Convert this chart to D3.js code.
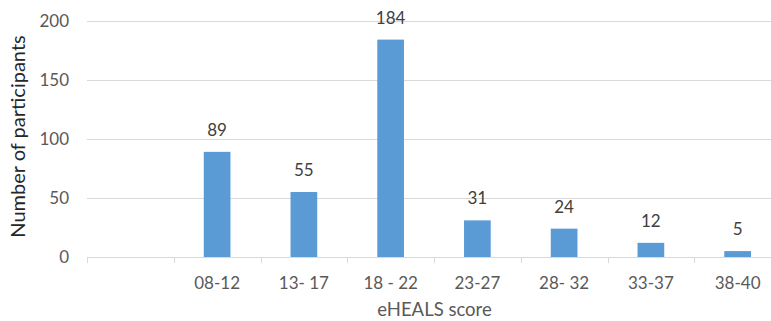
<!DOCTYPE html>
<html>
<head>
<meta charset="utf-8">
<script src="https://cdn.jsdelivr.net/npm/d3@7"></script>
<style>
  html, body { margin: 0; padding: 0; background: #fff; }
  svg { display: block; }
  text { font-family: Lato, "Open Sans", sans-serif; }
</style>
</head>
<body>
<svg id="chart" width="771" height="321"></svg>
<script>
// eHEALS score groups (first slot is an empty category)
const categories = ["", "08-12", "13- 17", "18 - 22", "23-27", "28- 32", "33-37", "38-40"];
const participants = [null, 89, 55, 184, 31, 24, 12, 5];
const yTicks = [0, 50, 100, 150, 200];

const svg = d3.select("#chart");
const plotLeft = 87, plotRight = 781, plotTop = 20.7, plotBottom = 257;

const x = d3.scaleBand().domain(categories).range([plotLeft, plotRight]).paddingInner(0).paddingOuter(0);
const y = d3.scaleLinear().domain([0, 200]).range([plotBottom, plotTop]);

// horizontal gridlines
svg.append("g").selectAll("line").data(yTicks.filter(d => d > 0)).join("line")
  .attr("x1", plotLeft).attr("x2", 771)
  .attr("y1", d => Math.round(y(d)) + 0.5).attr("y2", d => Math.round(y(d)) + 0.5)
  .attr("stroke", "#d9d9d9").attr("stroke-width", 1);

// y axis labels
const yAxis = d3.axisLeft(y).tickValues(yTicks).tickSize(0).tickPadding(18);
const gy = svg.append("g").attr("transform", `translate(${plotLeft},0)`).call(yAxis);
gy.select(".domain").remove();
gy.selectAll("text").attr("fill", "#595959").style("font-size", "17px")
  .style("font-family", "Lato, 'Open Sans', sans-serif");

// x axis with ticks between categories
const xAxis = d3.axisBottom(x).tickSize(0).tickPadding(19);
const gx = svg.append("g").attr("transform", `translate(0,${Math.round(plotBottom) + 0.5})`).call(xAxis);
gx.select(".domain").remove();
gx.selectAll("text").attr("fill", "#595959").style("font-size", "17px")
  .style("font-family", "Lato, 'Open Sans', sans-serif");
svg.append("line")
  .attr("x1", plotLeft).attr("x2", 771)
  .attr("y1", Math.round(plotBottom) + 0.5).attr("y2", Math.round(plotBottom) + 0.5)
  .attr("stroke", "#d9d9d9");
svg.append("g").selectAll("line").data(categories).join("line")
  .attr("x1", d => Math.round(x(d)) + 0.5).attr("x2", d => Math.round(x(d)) + 0.5)
  .attr("y1", Math.round(plotBottom) + 0.5).attr("y2", Math.round(plotBottom) + 6)
  .attr("stroke", "#d9d9d9");

// bars
const barW = 26.7;
const barData = categories.map((c, i) => ({ c, v: participants[i] })).filter(d => d.v != null);
svg.append("g").selectAll("rect").data(barData).join("rect")
  .attr("x", d => x(d.c) + x.bandwidth() / 2 - barW / 2)
  .attr("width", barW)
  .attr("y", d => y(d.v))
  .attr("height", d => y(0) - y(d.v))
  .attr("fill", "#5b9bd5");

// value labels
svg.append("g").selectAll("text").data(barData).join("text")
  .attr("x", d => x(d.c) + x.bandwidth() / 2)
  .attr("y", d => y(d.v) - 16)
  .attr("text-anchor", "middle")
  .attr("fill", "#404040")
  .style("font-size", "17px")
  .text(d => d.v);

// axis titles
svg.append("text")
  .attr("x", 434.5).attr("y", 316)
  .attr("text-anchor", "middle").attr("fill", "#595959")
  .style("font-size", "18.5px")
  .text("eHEALS score");

svg.append("text")
  .attr("transform", `translate(25,${(35 + 238) / 2}) rotate(-90)`)
  .attr("text-anchor", "middle").attr("fill", "#262626")
  .style("font-size", "20px")
  .text("Number of participants");
</script>
</body>
</html>
